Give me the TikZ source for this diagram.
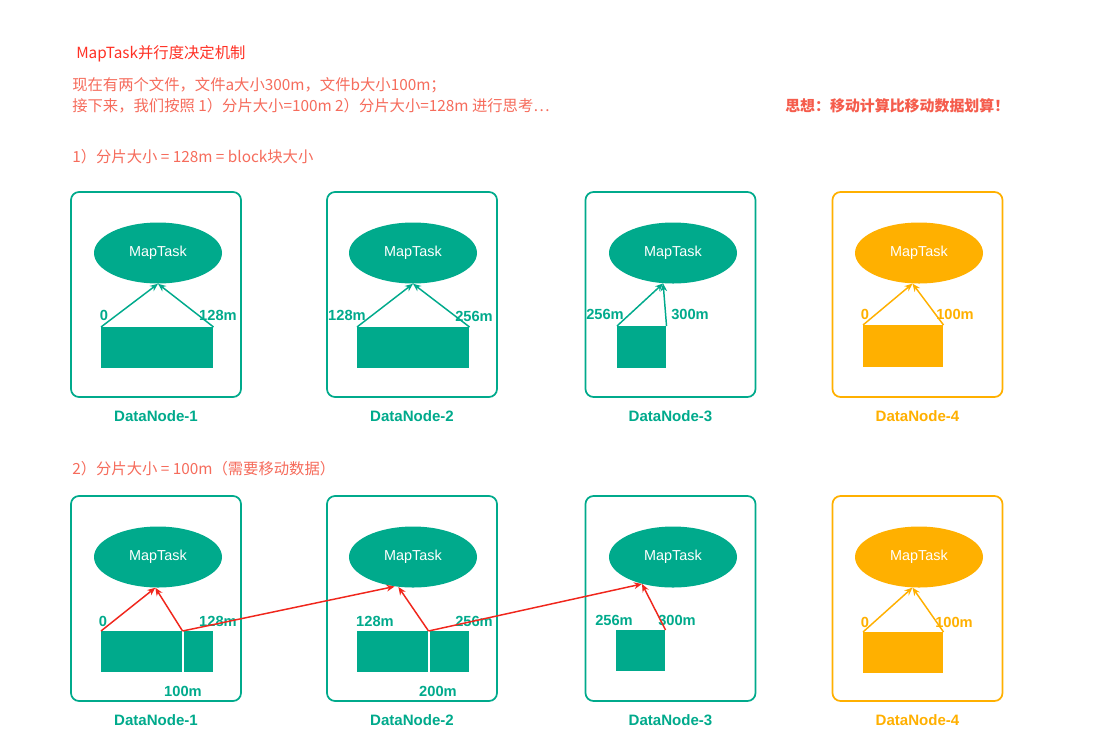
\documentclass[tikz,border=0pt]{standalone}
\usepackage{fontspec}
\setmainfont{Liberation Sans}
\newfontfamily\cjkfont{Noto Sans CJK SC}
\usetikzlibrary{arrows.meta,shapes.geometric}

\definecolor{dngreen}{RGB}{0,170,140}
\definecolor{dnorange}{RGB}{255,176,0}
\definecolor{titlered}{RGB}{255,48,36}
\definecolor{notered}{RGB}{246,108,92}
\definecolor{ideared}{RGB}{245,92,76}
\definecolor{movered}{RGB}{240,38,28}

\newcommand{\pxu}{0.75pt}

\tikzset{
  dnbox/.style={draw=#1, line width=1.3pt, rounded corners=6pt, minimum width=170*\pxu, minimum height=205*\pxu, inner sep=0pt},
  maptask/.style={ellipse, fill=#1, text=white, minimum width=128*\pxu, minimum height=61*\pxu, inner sep=0pt, font=\fontsize{10.8}{13}\selectfont},
  blk/.style={fill=#1, anchor=north west, inner sep=0pt, minimum height=41*\pxu},
  numlbl/.style={text=#1, inner sep=0pt, font=\bfseries\fontsize{11}{13}\selectfont},
  dnlabel/.style={text=#1, inner sep=0pt, font=\bfseries\fontsize{11.3}{13}\selectfont},
  note/.style={anchor=west, inner sep=0pt, text=notered, font=\cjkfont\fontsize{11.5}{14}\selectfont},
  split/.style={draw=#1, line width=1.1pt, -{Stealth[length=6pt,width=5pt]}},
}

\begin{document}
\begin{tikzpicture}[x=\pxu, y=-\pxu]

  \path[use as bounding box, fill=white] (0,0) rectangle (1117,751);

  % texts
  \node[note, text=titlered] (title) at (76,54) {MapTask并行度决定机制};
  \node[note] (line1) at (72,85) {现在有两个文件，文件a大小300m，文件b大小100m；};
  \node[note] (line2) at (72,106) {接下来，我们按照 1）分片大小=100m~2）分片大小=128m 进行思考…};
  \node[note, text=ideared, font=\cjkfont\bfseries\fontsize{11.2}{14}\selectfont] (idea) at (785,106) {思想：移动计算比移动数据划算！};
  \node[note] (casea) at (72,157) {1）分片大小 = 128m = block块大小};
  \node[note] (caseb) at (72,469) {2）分片大小 = 100m（需要移动数据）};

  % datanodes with maptasks
  \foreach \i/\bx/\ex/\c in {1/156/158/dngreen, 2/412/413/dngreen, 3/670.5/673/dngreen, 4/917.5/919/dnorange}{
    \node[dnbox=\c] (boxa\i) at (\bx,294.5) {};
    \node[maptask=\c] (mapa\i) at (\ex,253) {MapTask};
    \node[dnlabel=\c] (namea\i) at (\bx,416) {DataNode-\i};
    \node[dnbox=\c] (boxb\i) at (\bx,598.5) {};
    \node[maptask=\c] (mapb\i) at (\ex,557) {MapTask};
    \node[dnlabel=\c] (nameb\i) at (\bx,720) {DataNode-\i};
  }

  % case 1: blocks
  \node[blk=dngreen, minimum width=112*\pxu] (blka1) at (101,327) {};
  \node[blk=dngreen, minimum width=112*\pxu] (blka2) at (357,327) {};
  \node[blk=dngreen, minimum width=49*\pxu, minimum height=42*\pxu] (blka3) at (617,326) {};
  \node[blk=dnorange, minimum width=80*\pxu, minimum height=42*\pxu] (blka4) at (863,325) {};

  \node[numlbl=dngreen] (offa1) at (104,315) {0};
  \node[numlbl=dngreen] (offa2) at (218,315) {128m};
  \node[numlbl=dngreen] (offa3) at (347,315) {128m};
  \node[numlbl=dngreen] (offa4) at (474,316) {256m};
  \node[numlbl=dngreen] (offa5) at (605,314) {256m};
  \node[numlbl=dngreen] (offa6) at (690,314) {300m};
  \node[numlbl=dnorange] (offa7) at (865,314) {0};
  \node[numlbl=dnorange] (offa8) at (955,314) {100m};

  \draw[split=dngreen] (blka1.north west) -- (mapa1.south);
  \draw[split=dngreen] (blka1.north east) -- (mapa1.south);
  \draw[split=dngreen] (blka2.north west) -- (mapa2.south);
  \draw[split=dngreen] (blka2.north east) -- (mapa2.south);
  \draw[split=dngreen] (blka3.north west) -- (mapa3.252);
  \draw[split=dngreen] (blka3.north east) -- (mapa3.252);
  \draw[split=dnorange] (blka4.north west) -- (mapa4.258);
  \draw[split=dnorange] (blka4.north east) -- (mapa4.258);

  % case 2: blocks, cut at 100m and 200m
  \node[blk=dngreen, minimum width=81*\pxu] (blkb1l) at (101,631) {};
  \node[blk=dngreen, minimum width=29*\pxu] (blkb1r) at (184,631) {};
  \node[blk=dngreen, minimum width=71*\pxu] (blkb2l) at (357,631) {};
  \node[blk=dngreen, minimum width=39*\pxu] (blkb2r) at (430,631) {};
  \node[blk=dngreen, minimum width=49*\pxu] (blkb3) at (616,630) {};
  \node[blk=dnorange, minimum width=80*\pxu] (blkb4) at (863,632) {};

  \node[numlbl=dngreen] (offb1) at (103,621) {0};
  \node[numlbl=dngreen] (offb2) at (218,621) {128m};
  \node[numlbl=dngreen] (offb3) at (183,691) {100m};
  \node[numlbl=dngreen] (offb4) at (375,621) {128m};
  \node[numlbl=dngreen] (offb5) at (474,621) {256m};
  \node[numlbl=dngreen] (offb6) at (438,691) {200m};
  \node[numlbl=dngreen] (offb7) at (614,620) {256m};
  \node[numlbl=dngreen] (offb8) at (677,620) {300m};
  \node[numlbl=dnorange] (offb9) at (865,622) {0};
  \node[numlbl=dnorange] (offb10) at (954,622) {100m};

  \draw[split=movered] (blkb1l.north west) -- (mapb1.265);
  \draw[split=movered] (blkb1l.north east) -- (mapb1.265);
  \draw[split=movered] (blkb1l.north east) -- (mapb2.238); % moved to node 2
  \draw[split=movered] (blkb2l.north east) -- (mapb2.244);
  \draw[split=movered] (blkb2l.north east) -- (mapb3.221); % moved to node 3
  \draw[split=movered] (blkb3.north east) -- (mapb3.221);
  \draw[split=dnorange] (blkb4.north west) -- (mapb4.258);
  \draw[split=dnorange] (blkb4.north east) -- (mapb4.258);

\end{tikzpicture}
\end{document}
